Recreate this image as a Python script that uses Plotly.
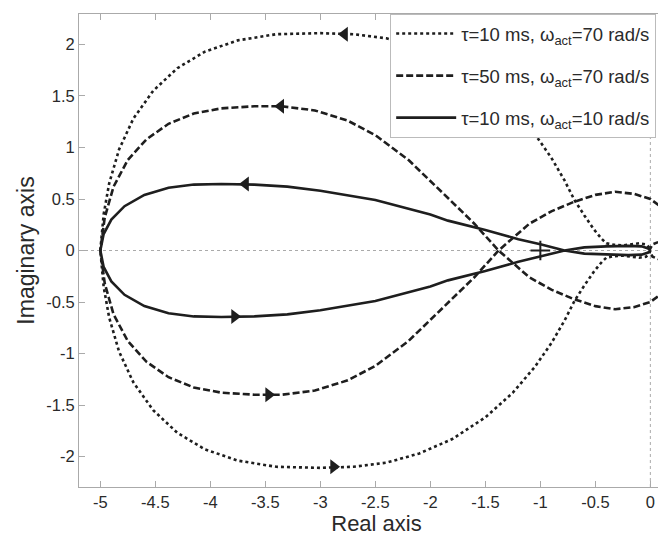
import plotly.graph_objects as go

# ---- data ----
# dotted: tau=10 ms, w_act=70 rad/s
dot_up_x = [-5.0, -4.97, -4.92, -4.83, -4.7, -4.52, -4.3, -4.05, -3.75, -3.4, -3.0, -2.7, -2.4, -2.1, -1.8, -1.5, -1.25, -1.05, -0.9, -0.78, -0.69, -0.6, -0.51, -0.44, -0.40, -0.33, -0.25, -0.17, -0.10, -0.04, -0.01, 0.0]
dot_up_y = [0.0, 0.35, 0.65, 0.98, 1.28, 1.55, 1.77, 1.93, 2.04, 2.1, 2.11, 2.1, 2.06, 1.97, 1.83, 1.62, 1.38, 1.13, 0.90, 0.68, 0.49, 0.34, 0.20, 0.11, 0.07, 0.055, 0.05, 0.06, 0.07, 0.06, 0.03, 0.0]
dot_lo_x = [-5.0, -4.97, -4.92, -4.83, -4.7, -4.52, -4.3, -4.05, -3.75, -3.4, -3.0, -2.7, -2.4, -2.1, -1.8, -1.5, -1.25, -1.05, -0.9, -0.78, -0.69, -0.6, -0.51, -0.44, -0.40, -0.33, -0.25, -0.17, -0.10, -0.04, -0.01, 0.0]
dot_lo_y = [0.0, -0.35, -0.65, -0.98, -1.28, -1.55, -1.77, -1.93, -2.04, -2.1, -2.11, -2.1, -2.06, -1.97, -1.83, -1.62, -1.38, -1.13, -0.90, -0.68, -0.49, -0.34, -0.20, -0.11, -0.07, -0.055, -0.05, -0.06, -0.07, -0.06, -0.03, 0.0]

# dashed: tau=50 ms, w_act=70 rad/s (big arc + opposite-side lobe)
dash_a_x = [-5.0, -4.96, -4.88, -4.75, -4.58, -4.38, -4.15, -3.9, -3.6, -3.35, -3.05, -2.75, -2.5, -2.2, -1.84, -1.6, -1.38, -1.1, -0.9, -0.7, -0.5, -0.32, -0.15, 0.0, 0.1, 0.18, 0.22, 0.24]
dash_a_y = [0.0, 0.32, 0.62, 0.88, 1.08, 1.23, 1.33, 1.38, 1.4, 1.4, 1.36, 1.26, 1.12, 0.88, 0.51, 0.26, 0.0, -0.26, -0.38, -0.47, -0.54, -0.57, -0.55, -0.5, -0.42, -0.3, -0.15, 0.0]
dash_b_x = [-5.0, -4.96, -4.88, -4.75, -4.58, -4.38, -4.15, -3.9, -3.6, -3.35, -3.05, -2.75, -2.5, -2.2, -1.84, -1.6, -1.38, -1.1, -0.9, -0.7, -0.5, -0.32, -0.15, 0.0, 0.1, 0.18, 0.22, 0.24]
dash_b_y = [0.0, -0.32, -0.62, -0.88, -1.08, -1.23, -1.33, -1.38, -1.4, -1.4, -1.36, -1.26, -1.12, -0.88, -0.51, -0.26, 0.0, 0.26, 0.38, 0.47, 0.54, 0.57, 0.55, 0.5, 0.42, 0.3, 0.15, 0.0]
dash_loop_x = [-0.01, 0.02, 0.08, 0.14, 0.18, 0.14, 0.08, 0.02, -0.01]
dash_loop_y = [0.0, 0.06, 0.085, 0.06, 0.0, -0.06, -0.085, -0.06, 0.0]

# solid: tau=10 ms, w_act=10 rad/s
sol_a_x = [-5.0, -4.97, -4.9, -4.78, -4.6, -4.38, -4.15, -3.9, -3.6, -3.3, -3.0, -2.5, -2.0, -1.84, -1.5, -1.2, -1.0, -0.78, -0.6, -0.4, -0.2, -0.08, -0.02, 0.0]
sol_a_y = [0.0, 0.16, 0.3, 0.43, 0.54, 0.61, 0.64, 0.645, 0.64, 0.62, 0.58, 0.49, 0.35, 0.29, 0.2, 0.11, 0.06, 0.0, -0.03, -0.04, -0.045, -0.04, -0.02, 0.0]
sol_b_x = [-5.0, -4.97, -4.9, -4.78, -4.6, -4.38, -4.15, -3.9, -3.6, -3.3, -3.0, -2.5, -2.0, -1.84, -1.5, -1.2, -1.0, -0.78, -0.6, -0.4, -0.2, -0.08, -0.02, 0.0]
sol_b_y = [0.0, -0.16, -0.3, -0.43, -0.54, -0.61, -0.64, -0.645, -0.64, -0.62, -0.58, -0.49, -0.35, -0.29, -0.2, -0.11, -0.06, 0.0, 0.03, 0.04, 0.045, 0.04, 0.02, 0.0]

# direction arrows
arrow_left_x = [-2.78, -3.36, -3.68]
arrow_left_y = [2.1, 1.4, 0.645]
arrow_right_x = [-2.88, -3.47, -3.78]
arrow_right_y = [-2.1, -1.4, -0.64]

# critical point
crit_x = [-1.0]
crit_y = [0.0]

x_ticks = [-5, -4.5, -4, -3.5, -3, -2.5, -2, -1.5, -1, -0.5, 0]
y_ticks = [-2, -1.5, -1, -0.5, 0, 0.5, 1, 1.5, 2]

labels = ["τ=10 ms, ω<sub>act</sub>=70 rad/s",
          "τ=50 ms, ω<sub>act</sub>=70 rad/s",
          "τ=10 ms, ω<sub>act</sub>=10 rad/s"]

LC = "#1e1e1e"
LW = 2.6
FONT = "Liberation Sans, Arial, sans-serif"
TXT = "#2a2a2a"

fig = go.Figure()

# dotted
fig.add_trace(go.Scatter(x=dot_lo_x[::-1] + dot_up_x, y=dot_lo_y[::-1] + dot_up_y, mode="lines",
                         line=dict(color=LC, width=LW, dash="dot"), name=labels[0],
                         legendgroup="g1"))
# dashed
fig.add_trace(go.Scatter(x=dash_b_x[::-1] + dash_a_x, y=dash_b_y[::-1] + dash_a_y, mode="lines",
                         line=dict(color=LC, width=LW, dash="7px,3px"), name=labels[1],
                         legendgroup="g2"))
fig.add_trace(go.Scatter(x=dash_loop_x, y=dash_loop_y, mode="lines",
                         line=dict(color=LC, width=LW, dash="5px,3px"), showlegend=False,
                         legendgroup="g2"))
# solid
fig.add_trace(go.Scatter(x=sol_b_x[::-1] + sol_a_x, y=sol_b_y[::-1] + sol_a_y, mode="lines",
                         line=dict(color=LC, width=LW), name=labels[2],
                         legendgroup="g3"))

fig.add_trace(go.Scatter(x=arrow_left_x, y=arrow_left_y, mode="markers",
                         marker=dict(symbol="triangle-left", size=13, color=LC),
                         showlegend=False, hoverinfo="skip"))
fig.add_trace(go.Scatter(x=arrow_right_x, y=arrow_right_y, mode="markers",
                         marker=dict(symbol="triangle-right", size=13, color=LC),
                         showlegend=False, hoverinfo="skip"))
fig.add_trace(go.Scatter(x=crit_x, y=crit_y, mode="markers",
                         marker=dict(symbol="cross-thin", size=14, line=dict(color=LC, width=2)),
                         showlegend=False, hoverinfo="skip"))

# zero lines (dotted)
fig.add_shape(type="line", xref="x", yref="paper", x0=0, x1=0, y0=0, y1=1,
              line=dict(color="#aaaaaa", width=1, dash="dot"), layer="below")
fig.add_shape(type="line", xref="paper", yref="y", x0=0, x1=1, y0=0, y1=0,
              line=dict(color="#aaaaaa", width=1, dash="dot"), layer="below")

fig.update_layout(
    width=666, height=535,
    margin=dict(l=71, r=0, t=6, b=56),
    paper_bgcolor="white", plot_bgcolor="white",
    font=dict(family=FONT, size=16, color=TXT),
    showlegend=True,
    legend=dict(x=0.523, y=1.0, xanchor="left", yanchor="top",
                bgcolor="white", bordercolor="#bbbbbb", borderwidth=1,
                font=dict(family=FONT, size=18.5, color=TXT),
                tracegroupgap=15, itemwidth=60),
    xaxis=dict(range=[-5.194, 0.215], tickvals=x_ticks, ticktext=[f"{v:g}" for v in x_ticks],
               showgrid=False, zeroline=False, showline=True, linecolor="#aaaaaa", linewidth=1,
               mirror="ticks", ticks="inside", ticklen=6, tickcolor="#aaaaaa",
               tickfont=dict(size=16.5, color=TXT),
               title=dict(text="Real axis", font=dict(size=22, color=TXT), standoff=2)),
    yaxis=dict(range=[-2.296, 2.296], tickvals=y_ticks, ticktext=[f"{v:g}" for v in y_ticks],
               showgrid=False, zeroline=False, showline=True, linecolor="#aaaaaa", linewidth=1,
               mirror=False, ticks="inside", ticklen=6, tickcolor="#aaaaaa",
               tickfont=dict(size=16.5, color=TXT),
               title=dict(text="Imaginary axis", font=dict(size=23, color=TXT), standoff=5)),
)

fig.write_html("out.html")
